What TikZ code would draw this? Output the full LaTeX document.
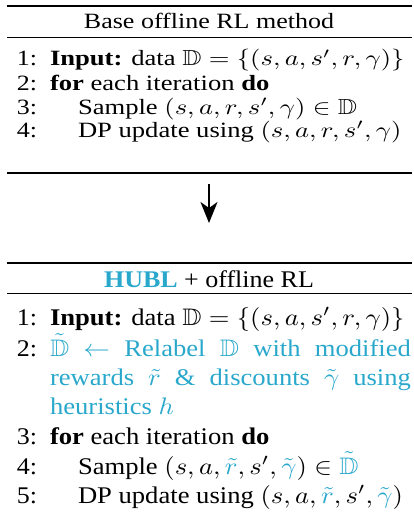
\documentclass[tikz,border=0pt]{standalone}
\usepackage{amssymb}
\usepackage{fontspec}
\setmainfont{Liberation Serif}
\usetikzlibrary{arrows.meta}
\definecolor{hubl}{RGB}{41,168,204}
\newcommand\ttlA[1]{\scalebox{2.6}[2.18]{#1}}
\newcommand\ttlB[1]{\scalebox{2.6}[2.39]{#1}}
\newcommand\sqA[1]{\scalebox{2.66}[2.18]{#1}}
\newcommand\sqB[1]{\scalebox{2.66}[2.39]{#1}}
\tikzset{
  every node/.style={inner sep=0pt, outer sep=0pt, font=\fontsize{10}{12}\selectfont},
  num/.style={anchor=base east},
  txt/.style={anchor=base west},
  ttl/.style={anchor=base},
  heavyrule/.style={line width=1.3pt},
  lightrule/.style={line width=0.8pt},
}
\begin{document}
\begin{tikzpicture}[x=1pt,y=-1pt]
\useasboundingbox (0,0) rectangle (414,519);
% block 1
\draw[heavyrule] (7,6) -- (412,6);
\node[ttl] (t1) at (209,29) {\ttlA{Base offline RL method}};
\draw[lightrule] (7,37) -- (412,37);
\node[num] (n11) at (37,66) {\ttlA{1:}};
\node[txt] (l11) at (50,66) {\sqA{\textbf{Input:} data $\mathbb{D}=\{(s,a,s',r,\gamma)\}$}};
\node[num] (n12) at (37,90) {\ttlA{2:}};
\node[txt] (l12) at (50,90) {\sqA{\textbf{for} each iteration \textbf{do}}};
\node[num] (n13) at (37,114) {\ttlA{3:}};
\node[txt] (l13) at (78,114) {\sqA{Sample $(s,a,r,s',\gamma)\in\mathbb{D}$}};
\node[num] (n14) at (37,137) {\ttlA{4:}};
\node[txt] (l14) at (78,137) {\sqA{DP update using $(s,a,r,s',\gamma)$}};
\draw[heavyrule] (7,173) -- (412,173);
% arrow
\coordinate (a1) at (209,184);
\coordinate (a2) at (209,223);
\draw[line width=1.8pt, -{Stealth[length=21pt,width=17pt,inset=6pt]}] (a1) -- (a2);
% block 2
\draw[heavyrule] (7,263) -- (412,263);
\node[ttl] (t2) at (209,287) {\ttlB{\textcolor{hubl}{\textbf{HUBL}} + offline RL}};
\draw[lightrule] (7,293) -- (412,293);
\node[num] (n21) at (37,325) {\ttlB{1:}};
\node[txt] (l21) at (50,325) {\sqB{\textbf{Input:} data $\mathbb{D}=\{(s,a,s',r,\gamma)\}$}};
\node[num] (n22) at (37,356) {\ttlB{2:}};
\node[txt] (l22a) at (50,356) {\sqB{\color{hubl}\makebox[135.7pt][s]{$\tilde{\mathbb{D}}$ $\leftarrow$ Relabel $\mathbb{D}$ with modified}}};
\node[txt] (l22b) at (50,385) {\sqB{\color{hubl}\makebox[135.7pt][s]{rewards $\tilde{r}$ \& discounts $\tilde{\gamma}$ using}}};
\node[txt] (l22c) at (50,414) {\sqB{\color{hubl}heuristics $h$}};
\node[num] (n23) at (37,444) {\ttlB{3:}};
\node[txt] (l23) at (50,444) {\sqB{\textbf{for} each iteration \textbf{do}}};
\node[num] (n24) at (37,474) {\ttlB{4:}};
\node[txt] (l24) at (78,474) {\sqB{Sample $(s,a,\textcolor{hubl}{\tilde{r}},s',\textcolor{hubl}{\tilde{\gamma}})\in\textcolor{hubl}{\tilde{\mathbb{D}}}$}};
\node[num] (n25) at (37,503) {\ttlB{5:}};
\node[txt] (l25) at (78,503) {\sqB{DP update using $(s,a,\textcolor{hubl}{\tilde{r}},s',\textcolor{hubl}{\tilde{\gamma}})$}};
\end{tikzpicture}
\end{document}
